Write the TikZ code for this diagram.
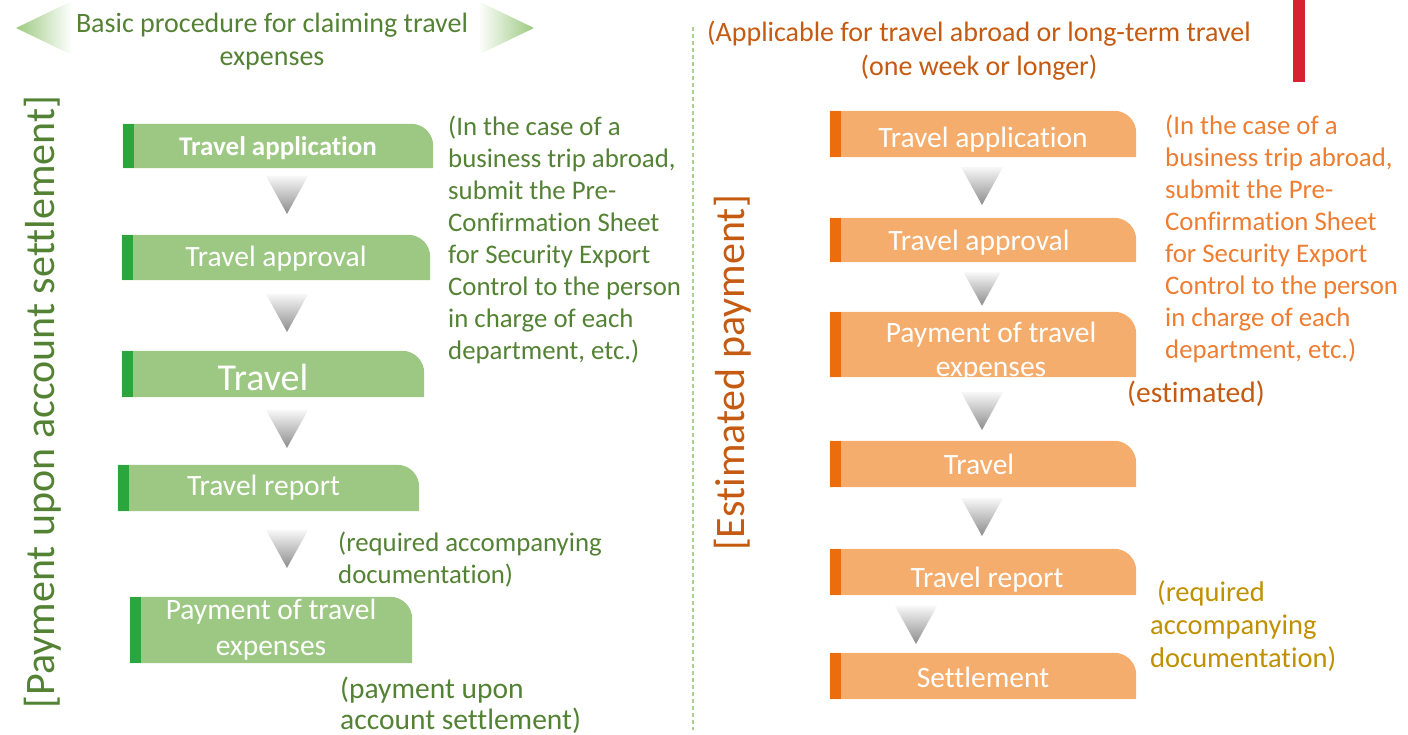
\documentclass[tikz,border=0pt]{standalone}
\usepackage{fontspec}
\setmainfont{Carlito}[Ligatures=CommonOff]
\usetikzlibrary{calc}
\pgfdeclarelayer{bg}
\pgfsetlayers{bg,main}
\definecolor{gfill}{HTML}{9DC883}
\definecolor{gstrip}{HTML}{2AA63C}
\definecolor{ofill}{HTML}{F4AD6D}
\definecolor{ostrip}{HTML}{ED6D0D}
\definecolor{tgreen}{HTML}{548235}
\definecolor{torange}{HTML}{ED7D31}
\definecolor{dorange}{HTML}{C55A11}
\definecolor{tgold}{HTML}{BF9000}
\definecolor{redbar}{HTML}{D52230}
\definecolor{dashgreen}{HTML}{A9D18E}
\definecolor{hgreen}{HTML}{9CC980}
\newcommand\fs[2]{\fontsize{#1}{#2}\selectfont}
\begin{document}
\begin{tikzpicture}[x=1pt,y=1pt,
  boxml/.style={inner sep=0pt, text=white, font=\fs{29.5}{36}, align=center},
  boxbase/.style={boxml, text height=21pt, text depth=6pt},
  gbox/.style={boxbase},
  obox/.style={boxbase},
  btext/.style={inner sep=0pt, text=white, align=center},
  ann/.style={inner sep=0pt, align=left, anchor=west, font=\fs{26.8}{32}},
  vtext/.style={inner sep=0pt, rotate=90, font=\fs{42}{50}},
  darr/.pic={\shade[top color=gray!6, bottom color=gray!90] (-21,19) -- (21,19) -- (0,-19) -- cycle;}
]
\useasboundingbox (0,0) rectangle (1408,-735);

% header
\shade[left color=hgreen, right color=white] (16,-28) -- (72,-1) -- (72,-55) -- cycle;
\shade[left color=white, right color=hgreen] (478,-1) -- (534,-28) -- (478,-55) -- cycle;
\node[inner sep=0pt, align=center, text=tgreen, font=\fs{28}{33}] (h1) at (272,-42) {Basic procedure for claiming travel\\expenses};
\node[inner sep=0pt, align=center, text=dorange, font=\fs{28}{34}] (h2) at (979,-51) {(Applicable for travel abroad or long-term travel\\(one week or longer)};

% divider and red bar
\coordinate (d1) at (693,-27);
\coordinate (d2) at (693,-730);
\draw[dashgreen, line width=2pt, dash pattern=on 4pt off 3pt] (d1) -- (d2);
\fill[redbar] (1293,0) rectangle (1305,-82);

% vertical labels
\node[vtext, text=tgreen] (v1) at (43,-402) {[Payment upon account settlement]};
\node[vtext, text=dorange] (v2) at (733,-373) {[Estimated payment]};

% left boxes
\node[gbox, minimum width=310, minimum height=44, font=\bfseries\fs{27}{32}, text height=26pt] (g1) at (278,-146) {Travel application};
\node[gbox, minimum width=308, minimum height=45, text height=25pt] (g2) at (276,-257.5) {Travel approval};
\node[gbox, minimum width=302, minimum height=46, font=\fs{38}{42}, text height=33pt, text depth=0pt] (g3) at (273,-374) {Travel\hspace{20pt}};
\node[gbox, minimum width=301, minimum height=46] (g4) at (268.5,-488) {Travel report\hspace{10pt}};
\node[boxml, minimum width=282, minimum height=66] (g5) at (271,-630) {Payment of travel\\expenses};

% right boxes
\node[obox, minimum width=306, minimum height=46, text height=33pt] (o1) at (983,-134) {Travel application};
\node[obox, minimum width=306, minimum height=44, text height=27pt] (o2) at (983,-240) {Travel approval\hspace{8pt}};
\node[obox, minimum width=306, minimum height=65] (o3) at (983,-344.5) {};
\node[btext, font=\fs{29.5}{34}] (o3t) at ([xshift=8pt,yshift=-7pt]o3.center) {Payment of travel\\expenses};
\node[obox, minimum width=306, minimum height=46, text height=21pt, text depth=0pt] (o4) at (983,-464) {Travel\hspace{8pt}};
\node[obox, minimum width=306, minimum height=46, text height=37pt] (o5) at (983,-572) {\hspace{8pt}Travel report};
\node[obox, minimum width=306, minimum height=46, text height=23pt, text depth=0pt] (o6) at (983,-676) {Settlement};

\begin{pgfonlayer}{bg}
\foreach \n/\f/\s in {g1/gfill/gstrip,g2/gfill/gstrip,g3/gfill/gstrip,g4/gfill/gstrip,g5/gfill/gstrip,o1/ofill/ostrip,o2/ofill/ostrip,o3/ofill/ostrip,o4/ofill/ostrip,o5/ofill/ostrip,o6/ofill/ostrip}{
  \fill[\f] (\n.south west) -- (\n.north west) -- ([xshift=-22pt]\n.north east) arc[start angle=90,end angle=0,radius=22pt] -- (\n.south east) -- cycle;
  \fill[\s] (\n.south west) rectangle ([xshift=11pt]\n.north west);
}
\end{pgfonlayer}

% down arrows
\pic at (287,-195) {darr};
\pic at (287,-313) {darr};
\pic at (287,-429) {darr};
\pic at (287,-549) {darr};
\pic at (982,-186) {darr};
\pic[scale=0.88] at (982,-289) {darr};
\pic at (982,-411) {darr};
\pic at (982,-517) {darr};
\pic at (916,-625) {darr};

% annotations
\node[ann, text=tgreen] (a1) at (448,-240) {(In the case of a\\business trip abroad,\\submit the Pre-\\Confirmation Sheet\\for Security Export\\Control to the person\\in charge of each\\department, etc.)};
\node[ann, text=torange] (a2) at (1165,-239) {(In the case of a\\business trip abroad,\\submit the Pre-\\Confirmation Sheet\\for Security Export\\Control to the person\\in charge of each\\department, etc.)};
\node[ann, text=tgreen, font=\fs{26.8}{32}] (a3) at (338,-560) {(required accompanying\\documentation)};
\node[ann, text=tgreen, font=\fs{29.5}{31}] (a4) at (340,-705) {(payment upon\\account settlement)};
\node[ann, text=dorange, font=\fs{29.5}{32}] (a5) at (1127,-394) {(estimated)};
\node[ann, text=tgold, font=\fs{28.5}{33}] (a6) at (1150,-626) {\hspace*{7pt}(required\\accompanying\\documentation)};
\end{tikzpicture}
\end{document}
